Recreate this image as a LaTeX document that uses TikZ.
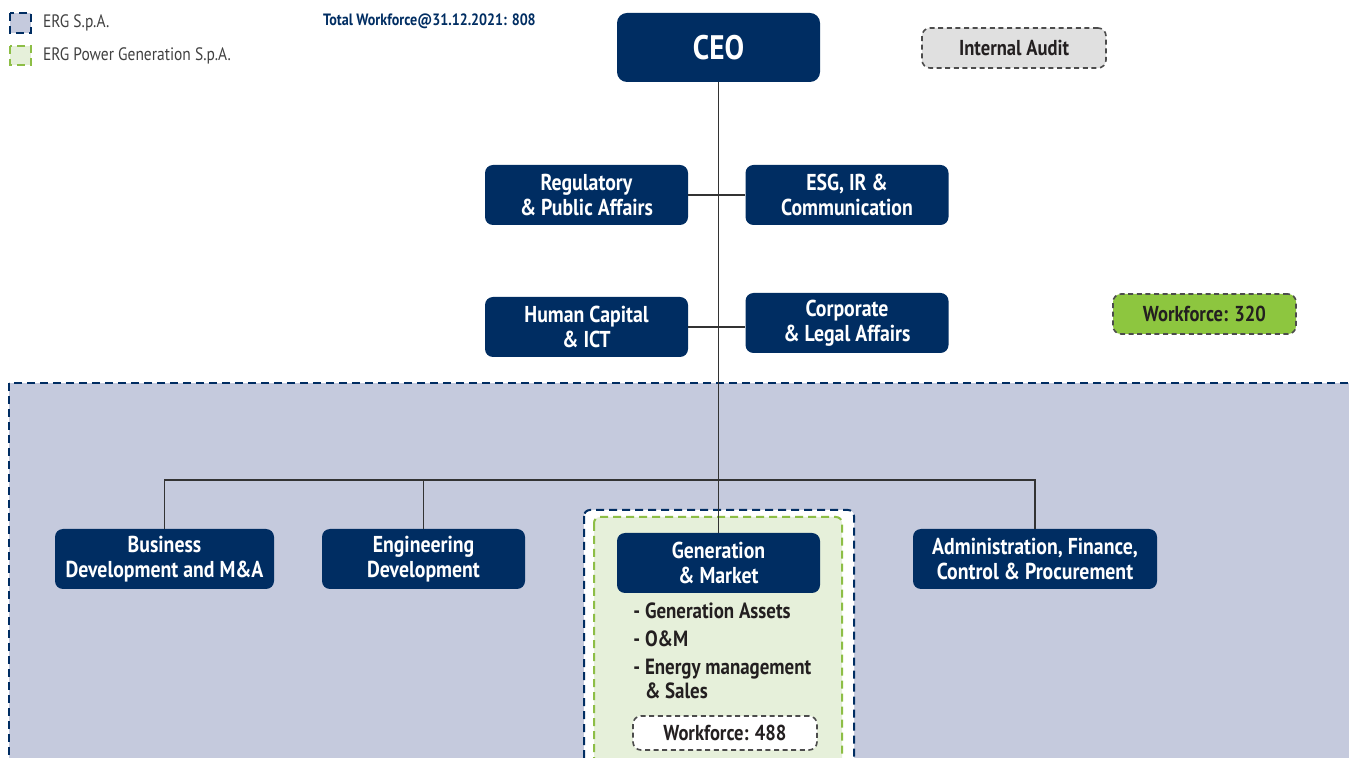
\documentclass[tikz,border=0pt]{standalone}
\usepackage{fontspec}
\setmainfont[FakeStretch=0.86]{PT Sans}
\usetikzlibrary{positioning,calc}
\definecolor{ergnavy}{RGB}{0,45,98}
\definecolor{ergarea}{RGB}{197,202,221}
\definecolor{pgarea}{RGB}{230,240,218}
\definecolor{pgline}{RGB}{141,190,70}
\definecolor{wfgreen}{RGB}{141,198,63}
\definecolor{auditgray}{RGB}{224,224,224}
\definecolor{txtdark}{RGB}{35,31,32}
\tikzset{
  unit/.style  ={rectangle, rounded corners=4pt, fill=ergnavy, text=white,
                 align=center, inner sep=1pt, minimum width=101.5pt,
                 minimum height=30pt,
                 font=\bfseries\fontsize{11.5}{12.5}\selectfont},
  tag/.style   ={rectangle, rounded corners=4pt, draw=black!70, thick,
                 dash pattern=on 2.5pt off 1.8pt, align=center,
                 minimum height=20pt, inner sep=1pt, text=txtdark,
                 font=\bfseries\fontsize{10.8}{11}\selectfont},
  area/.style  ={line width=1pt, dash pattern=on 4pt off 2.5pt},
  lnk/.style   ={draw=black!80, line width=0.7pt},
  lgd/.style   ={anchor=west, text=black!75, font=\fontsize{9}{10}\selectfont}
}
\begin{document}
\begin{tikzpicture}[x=0.5pt, y=-0.5pt]
\clip (0,0) rectangle (1349,758);
% company areas
\draw[area, draw=ergnavy, fill=ergarea] (9,383) rectangle (1370,790);
\draw[area, draw=ergnavy, fill=white, rounded corners=3pt] (584,510) rectangle (854,790);
\draw[area, draw=pgline, fill=pgarea, rounded corners=3pt] (594,517) rectangle (842,790);
% legend
\draw[area, line width=0.6pt, draw=ergnavy, fill=ergarea] (10,13) rectangle (31,33);
\draw[area, line width=0.6pt, draw=pgline, fill=pgarea] (10,46) rectangle (31,65);
\node[lgd] (lgderg) at (36,23) {ERG S.p.A.};
\node[lgd] (lgdpg) at (36,56) {ERG Power Generation S.p.A.};
\node[anchor=west, text=ergnavy, font=\bfseries\fontsize{8.2}{10}\selectfont] (total)
  at (316,21) {Total Workforce@31.12.2021: 808};
% units
\node[unit, minimum height=34.5pt, rounded corners=5pt,
      font=\bfseries\fontsize{17}{18}\selectfont] (ceo) at (718.5,47.5) {CEO};
\node[tag, fill=auditgray, minimum width=92pt] (audit) at (1014,48) {Internal Audit};
\node[unit] (reg) at (586.5,195) {Regulatory\\\& Public Affairs};
\node[unit] (esg) at (847,195) {ESG, IR \&\\Communication};
\node[unit] (hc) at (586.5,327) {Human Capital\\\& ICT};
\node[unit] (corp) at (847,323) {Corporate\\\& Legal Affairs};
\node[tag, fill=wfgreen, minimum width=91.5pt] (wf320) at (1204.5,314) {Workforce: 320};
\node[unit, minimum width=109.5pt] (bd) at (164.5,559) {Business\\Development and M\&A};
\node[unit] (eng) at (423.5,559) {Engineering\\Development};
\node[unit, minimum width=122pt] (adm) at (1035,559) {Administration, Finance,\\Control \& Procurement};
\node[unit] (gm) at (718.5,563) {Generation\\\& Market};
\node[anchor=north west, align=left, inner sep=0pt, text=txtdark,
      font=\bfseries\fontsize{11}{12.2}\selectfont] (gmlist) at (633,602)
  {- Generation Assets\\[1.8pt] - O\&M\\[1.8pt] - Energy management\\ \phantom{- }\& Sales};
\node[tag, fill=white, minimum width=92pt, minimum height=17pt] (wf488) at (725,733) {Workforce: 488};
% reporting lines
\coordinate (bus) at (718.5,480);
\draw[lnk] (ceo.south) -- (gm.north);
\draw[lnk] (reg.east) -- (esg.west);
\draw[lnk] (hc.east) -- (hc.east -| corp.west);
\draw[lnk] (bd.north) |- (bus) -| (adm.north);
\draw[lnk] (eng.north) -- (eng.north |- bus);
\end{tikzpicture}
\end{document}
